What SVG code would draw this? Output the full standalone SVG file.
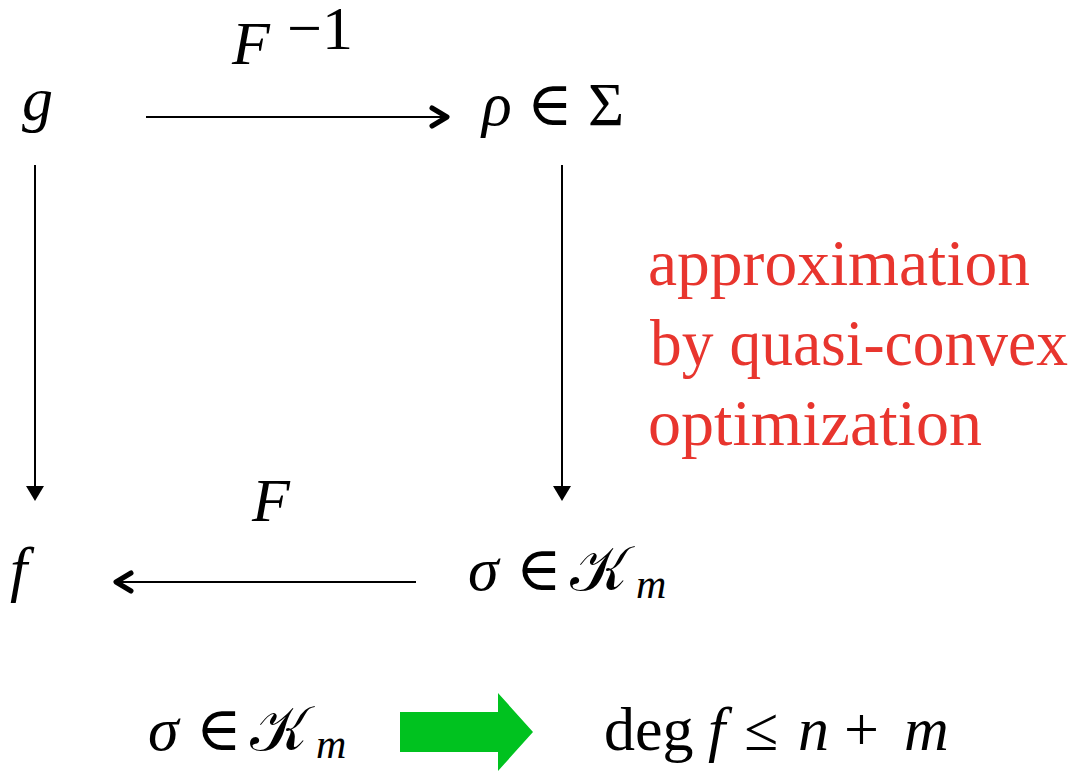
<svg xmlns="http://www.w3.org/2000/svg" width="1083" height="771" viewBox="0 0 1083 771">
<defs>
<style>
.m{font-family:"Liberation Serif","DejaVu Serif",serif;font-size:62px;fill:#000}
.i{font-style:italic}
.s{font-size:42px}
.r{font-family:"Liberation Serif","DejaVu Serif",serif;font-size:66px;fill:#e8352e}
.ln{stroke:#000;stroke-width:2;fill:none}
.open{stroke:#000;stroke-width:5;fill:none;stroke-linecap:round;stroke-linejoin:round}
</style>
</defs>
<rect width="1083" height="771" fill="#fff"/>
<g id="node-g"><text class="m i" x="22" y="120">g</text></g>
<g id="node-rho"><text class="m i" x="482" y="125">ρ</text><text class="m" x="527" y="125">∈</text><text class="m" x="588" y="125">Σ</text></g>
<g id="node-f"><text class="m i" x="10" y="590">f</text></g>
<g id="node-sigma"><text class="m i" x="468" y="590">σ</text><text class="m" x="516" y="590">∈</text><text class="m" x="570" y="590">𝒦</text><text class="m i s" x="636" y="598">m</text></g>
<g id="label-Finv"><text class="m i" x="232" y="64" font-size="66">F</text><text class="m" font-size="34" x="287" y="49">−1</text></g>
<g id="label-F"><text class="m i" x="252" y="521" font-size="66">F</text></g>
<g id="label-approx">
<text class="r" x="648" y="285" textLength="382" lengthAdjust="spacingAndGlyphs">approximation</text>
<text class="r" x="650" y="365" textLength="418" lengthAdjust="spacingAndGlyphs">by quasi-convex</text>
<text class="r" x="648" y="445" textLength="334" lengthAdjust="spacingAndGlyphs">optimization</text>
</g>
<g id="connectors">
<line class="ln" x1="146" y1="117" x2="446" y2="117"/>
<polyline class="open" points="432,108 447,117 432,126"/>
<line class="ln" x1="35" y1="165" x2="35" y2="486"/>
<polygon points="26,486 44,486 35,501" fill="#000"/>
<line class="ln" x1="562" y1="165" x2="562" y2="486"/>
<polygon points="553,486 571,486 562,501" fill="#000"/>
<line class="ln" x1="117" y1="582" x2="416" y2="582"/>
<polyline class="open" points="131,573 116,582 131,591"/>
</g>
<g id="bottom-left"><text class="m i" x="148" y="750">σ</text><text class="m" x="196" y="750">∈</text><text class="m" x="250" y="750">𝒦</text><text class="m i s" x="316" y="758">m</text></g>
<g id="green-arrow"><polygon points="400,712 498,712 498,693 533,732 498,771 498,752 400,752" fill="#00c21f"/></g>
<g id="bottom-right"><text class="m" x="604" y="750">deg</text><text class="m i" x="708" y="750">f</text><text class="m" x="744" y="750">≤</text><text class="m i" x="798" y="750">n</text><text class="m" x="844" y="750">+</text><text class="m i" x="904" y="750" font-size="68">m</text></g>
</svg>
